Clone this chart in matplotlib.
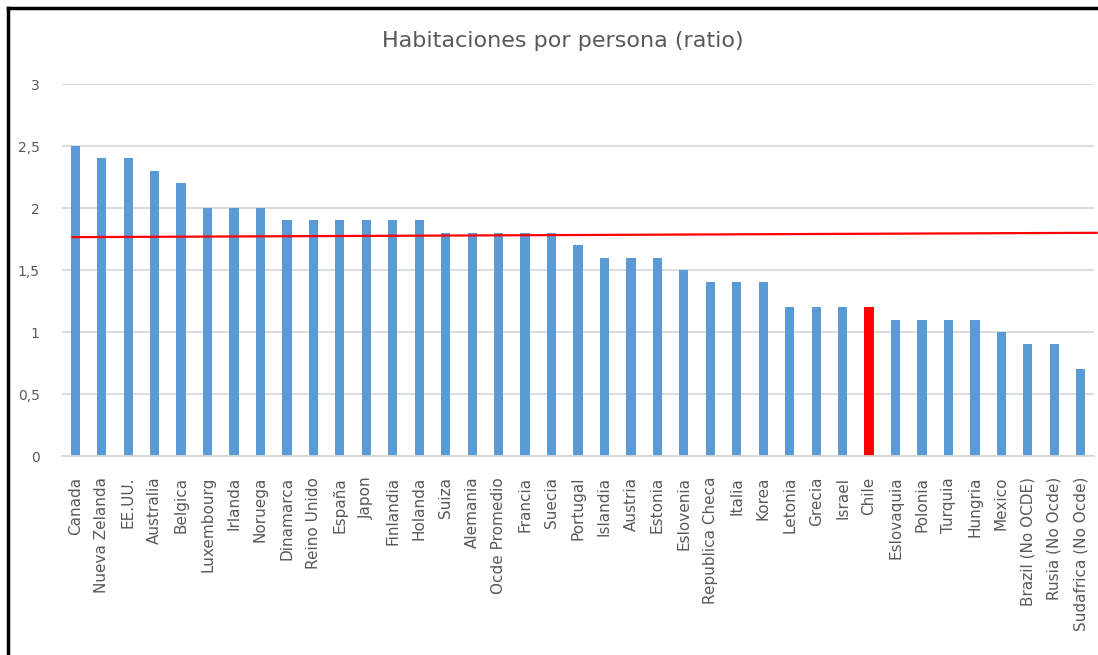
import matplotlib.pyplot as plt
from matplotlib.lines import Line2D
from matplotlib.ticker import FuncFormatter

plt.rcParams['font.family'] = ['DejaVu Sans']

paises = ['Canada', 'Nueva Zelanda', 'EE.UU.', 'Australia', 'Belgica', 'Luxembourg',
          'Irlanda', 'Noruega', 'Dinamarca', 'Reino Unido', 'España', 'Japon',
          'Finlandia', 'Holanda', 'Suiza', 'Alemania', 'Ocde Promedio', 'Francia',
          'Suecia', 'Portugal', 'Islandia', 'Austria', 'Estonia', 'Eslovenia',
          'Republica Checa', 'Italia', 'Korea', 'Letonia', 'Grecia', 'Israel',
          'Chile', 'Eslovaquia', 'Polonia', 'Turquia', 'Hungria', 'Mexico',
          'Brazil (No OCDE)', 'Rusia (No Ocde)', 'Sudafrica (No Ocde)']
ratio = [2.5, 2.4, 2.4, 2.3, 2.2, 2.0, 2.0, 2.0, 1.9, 1.9, 1.9, 1.9, 1.9, 1.9,
         1.8, 1.8, 1.8, 1.8, 1.8, 1.7, 1.6, 1.6, 1.6, 1.5, 1.4, 1.4, 1.4,
         1.2, 1.2, 1.2, 1.2, 1.1, 1.1, 1.1, 1.1, 1.0, 0.9, 0.9, 0.7]
# reference line (slightly tilted, as drawn in the original sheet)
linea_x = [-0.1, 38.6]
linea_y = [1.765, 1.80]

azul = '#5B9BD5'
gris = '#595959'

fig = plt.figure(figsize=(10.98, 6.55), dpi=100)
ax = fig.add_axes([62 / 1098, 1 - 456 / 655, (1094 - 62) / 1098, (456 - 84) / 655])

x = list(range(len(paises)))
colores = ['#FF0000' if p == 'Chile' else azul for p in paises]
ax.bar(x, ratio, width=0.35, color=colores, zorder=2)
ax.plot(linea_x, linea_y, color='#FF0000', lw=1.6, zorder=3, clip_on=False)

ax.set_xlim(-0.5, len(paises) - 0.5)
ax.set_ylim(0, 3)
ax.set_yticks([0, 0.5, 1, 1.5, 2, 2.5, 3])
ax.yaxis.set_major_formatter(FuncFormatter(lambda v, p: ('%g' % v).replace('.', ',')))
ax.set_xticks(x)
ax.set_xticklabels(paises, rotation=90, fontsize=11, color=gris)
ax.tick_params(axis='y', labelsize=10, labelcolor=gris, length=0, pad=16)
ax.tick_params(axis='x', length=0, pad=15)
ax.grid(axis='y', color='#D9D9D9', lw=1.3, zorder=0)
for s in ['top', 'right', 'left']:
    ax.spines[s].set_visible(False)
ax.spines['bottom'].set_color('#D9D9D9')
ax.spines['bottom'].set_linewidth(1.3)

fig.text(563 / 1098, 1 - 41 / 655, 'Habitaciones por persona (ratio)',
         ha='center', va='center', fontsize=16, color=gris)

# frame around the chart
fig.add_artist(Line2D([8 / 1098, 8 / 1098], [0, 1 - 8 / 655], color='black', lw=2.5))
fig.add_artist(Line2D([8 / 1098, 1], [1 - 8 / 655, 1 - 8 / 655], color='black', lw=2.5))

fig.savefig('out.png', dpi=100)
